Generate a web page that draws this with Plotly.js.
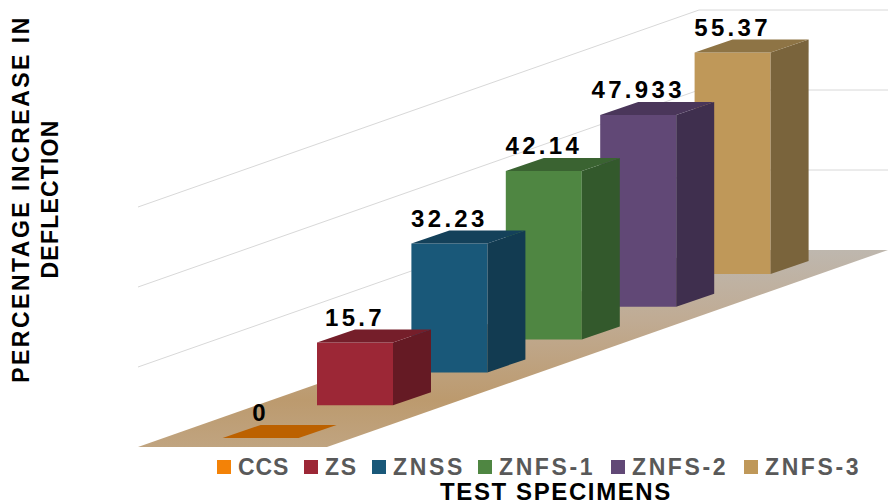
<!DOCTYPE html>
<html><head><meta charset="utf-8">
<script src="https://cdn.plot.ly/plotly-3.0.1.min.js"></script>
<style>
html,body{margin:0;padding:0;background:#fff;overflow:hidden}
#c{width:888px;height:501px}
.textpoint text{letter-spacing:3.3px}
.x2title{letter-spacing:1.6px}
.y2title{letter-spacing:2.5px}
</style></head><body><div id="c"></div>
<script>
const categories=['CCS','ZS','ZNSS','ZNFS-1','ZNFS-2','ZNFS-3'];
const values=[0,15.7,32.23,42.14,47.933,55.37];
const frontColors=['#BC6100','#9C2736','#195879','#4F8642','#614876','#BF9859'];
const sideColors=['#BC6100','#651A24','#123B51','#33592C','#3F2F4E','#7A643C'];
const topColors=['#BC6100','#751E2A','#14415A','#3A6331','#4A365A','#8E7445'];
const legendColors=['#F38207','#9C2736','#195879','#4F8642','#614876','#BF9859'];
const gridValues=[20,40,60];

const W=888,H=501;
const pxX=94.4, pxY=4;                 // pixels per category / per value unit
const originX=260.6, originY=447;      // pixel of category 0, value 0
const titleBoxL=224, titleBoxB=398;    // box that centres the axis titles
const barW=76/pxX, depX=38/pxX, depY=13/pxY;
const baseStart=2.25, baseStep=8.2;    // oblique floor shift of each bar
const floorL=(138-originX)/pxX, floorR=(327-originX)/pxX, floorRun=561/pxX, floorRise=197/pxY;
const gridEnd=(W-originX)/pxX;
const labelLift=5.7;
const legendPx=[217,304,372,478,611,744];
const legendSpacing=[0.9,1.8,2.7,2.6,2.6,2.6];

const base=categories.map((_,i)=>baseStart+baseStep*i);
const traces=[];
const poly=(xs,ys,color,z,extra)=>Object.assign({type:'scatter',mode:'none',x:xs,y:ys,fill:'toself',fillcolor:color,
  hoverinfo:'skip',showlegend:false,cliponaxis:false,zorder:z},extra||{});

traces.push(poly([floorL,floorR,floorR+floorRun,floorL+floorRun,floorL],[0,0,floorRise,floorRise,0],'#BD9A70',0,{
  fillgradient:{type:'vertical',colorscale:[[0,'#C0A480'],[0.24,'#BC9A6E'],[0.64,'#C0AB93'],[1,'#BEB7AE']]}}));

const gx=[],gy=[];
gridValues.forEach(v=>{gx.push(floorL,floorL+floorRun,gridEnd,null);gy.push(v,v+floorRise,v+floorRise,null);});
traces.push({type:'scatter',mode:'lines',x:gx,y:gy,line:{color:'#d8d8d8',width:1},hoverinfo:'skip',showlegend:false,cliponaxis:false,zorder:1});

categories.forEach((name,i)=>{
  const z=20-i*2, l=i-barW/2, r=i+barW/2, b=base[i], t=b+values[i];
  traces.push({type:'bar',name:name,x:[i],y:[values[i]],base:[b],width:barW,marker:{color:frontColors[i],line:{width:0}},
    cliponaxis:false,zorder:z,hoverinfo:'name+y',showlegend:false});
  traces.push(poly([r,r+depX,r+depX,r,r],[b,b+depY,t+depY,t,b],sideColors[i],z));
  traces.push(poly([l,r,r+depX,l+depX,l],[t,t,t+depY,t+depY,t],topColors[i],z));
});

traces.push({type:'scatter',mode:'text',x:categories.map((_,i)=>i),y:values.map((v,i)=>base[i]+v+labelLift),
  text:values.map(String),textposition:'middle center',textfont:{family:'Liberation Sans',size:24,color:'#000',weight:700},
  hoverinfo:'skip',showlegend:false,cliponaxis:false,zorder:50});

// empty subplot that only carries the two axis titles
traces.push({type:'scatter',mode:'none',x:[0],y:[0],xaxis:'x2',yaxis:'y2',hoverinfo:'skip',showlegend:false});

const shapes=categories.map((_,i)=>({type:'rect',xref:'paper',yref:'paper',x0:legendPx[i]/W,x1:(legendPx[i]+14)/W,
  y0:1-474/H,y1:1-460/H,fillcolor:legendColors[i],line:{width:0}}));
const annotations=categories.map((name,i)=>({xref:'paper',yref:'paper',x:(legendPx[i]+19)/W,y:1-467/H,
  text:'<b><span style="letter-spacing:'+legendSpacing[i]+'px">'+name+'</span></b>',
  showarrow:false,xanchor:'left',yanchor:'middle',font:{family:'Liberation Sans',size:23,color:'#595959'}}));

const hidden={showgrid:false,zeroline:false,showticklabels:false,ticks:'',showline:false};
const layout={width:W,height:H,margin:{l:0,r:0,t:0,b:0,pad:0},paper_bgcolor:'#fff',plot_bgcolor:'rgba(0,0,0,0)',
  barmode:'overlay',showlegend:false,shapes,annotations,
  xaxis:Object.assign({domain:[0,1],range:[-originX/pxX,gridEnd]},hidden),
  yaxis:Object.assign({domain:[0,1],range:[(originY-H)/pxY,originY/pxY]},hidden),
  xaxis2:Object.assign({domain:[titleBoxL/W,1],anchor:'y2',fixedrange:true,
    title:{text:'<b>TEST SPECIMENS</b>',standoff:92,font:{family:'Liberation Sans',size:24,color:'#000'}}},hidden),
  yaxis2:Object.assign({domain:[1-titleBoxB/H,1],anchor:'x2',fixedrange:true,
    title:{text:'<b>PERCENTAGE INCREASE IN<br><span style="letter-spacing:1.2px">DEFLECTION</span></b>',standoff:157,font:{family:'Liberation Sans',size:23,color:'#000'}}},hidden)
};
Plotly.newPlot('c',traces,layout,{displayModeBar:false,responsive:false}).then(()=>{
  const t=document.querySelector('.x2title');
  if(t) t.setAttribute('transform','translate(0,4) '+(t.getAttribute('transform')||''));
});
</script></body></html>
